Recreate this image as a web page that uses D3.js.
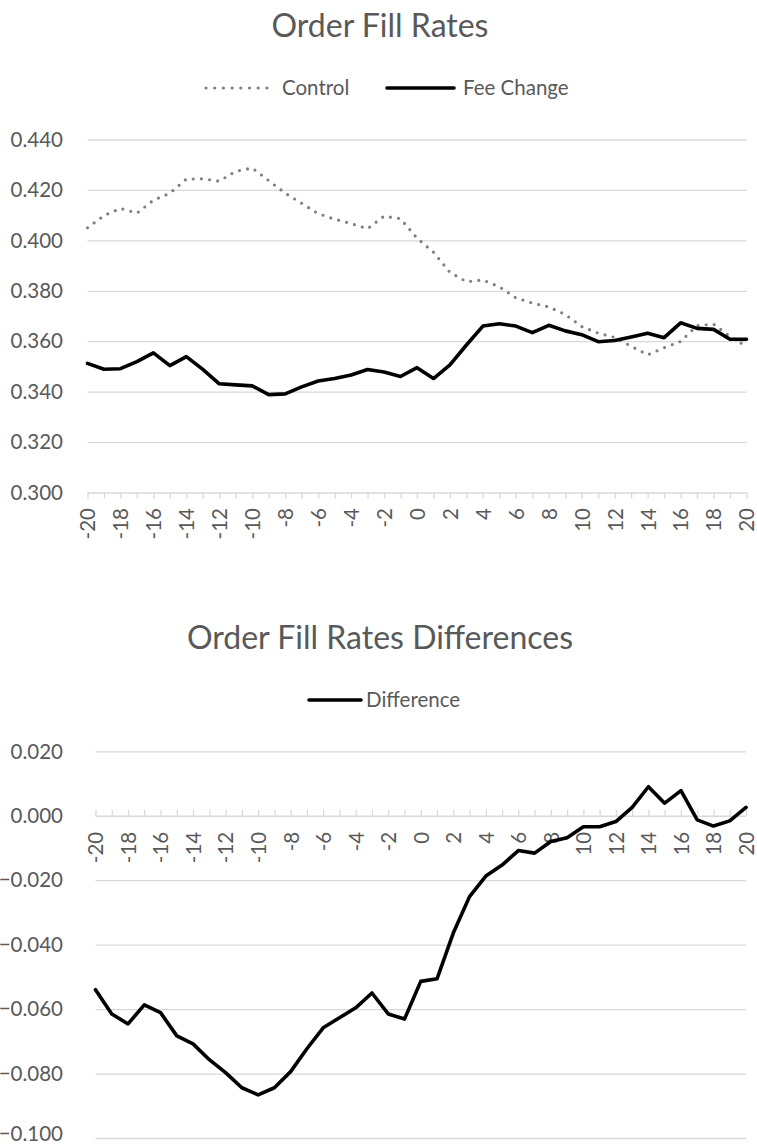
<!DOCTYPE html>
<html>
<head>
<meta charset="utf-8">
<script src="https://cdn.jsdelivr.net/npm/d3@7"></script>
<style>
  html, body { margin: 0; padding: 0; background: #ffffff; }
  svg { display: block; }
</style>
</head>
<body>
<script>
// ---------- data ----------
const days = [-20,-19,-18,-17,-16,-15,-14,-13,-12,-11,-10,-9,-8,-7,-6,-5,-4,-3,-2,-1,0,
              1,2,3,4,5,6,7,8,9,10,11,12,13,14,15,16,17,18,19,20];
const dayLabels = ["-20","-18","-16","-14","-12","-10","-8","-6","-4","-2","0",
                   "2","4","6","8","10","12","14","16","18","20"];

const controlRates = [0.4050,0.4098,0.4127,0.4108,0.4159,0.4187,0.4243,0.4244,0.4235,0.4274,0.4287,
                      0.4237,0.4187,0.4147,0.4106,0.4084,0.4067,0.4046,0.4096,0.4086,0.4009,
                      0.3953,0.3873,0.3836,0.3843,0.3816,0.3772,0.3751,0.3736,0.3706,0.3658,
                      0.3632,0.3615,0.3580,0.3546,0.3574,0.3599,0.3662,0.3668,0.3619,0.3579];
const feeChangeRates = [0.3512,0.3489,0.3491,0.3519,0.3554,0.3503,0.3539,0.3488,0.3431,0.3427,0.3423,
                        0.3388,0.3391,0.3419,0.3442,0.3452,0.3466,0.3488,0.3478,0.3460,0.3495,
                        0.3452,0.3506,0.3585,0.3660,0.3669,0.3660,0.3634,0.3663,0.3641,0.3626,
                        0.3598,0.3603,0.3617,0.3632,0.3614,0.3673,0.3651,0.3647,0.3608,0.3608];
const differences = [-0.0540,-0.0615,-0.0646,-0.0587,-0.0611,-0.0683,-0.0708,-0.0757,-0.0797,-0.0844,-0.0866,
                     -0.0844,-0.0794,-0.0723,-0.0658,-0.0627,-0.0596,-0.0550,-0.0615,-0.0631,-0.0514,
                     -0.0506,-0.0364,-0.0251,-0.0187,-0.0153,-0.0108,-0.0116,-0.0080,-0.0068,-0.0034,
                     -0.0034,-0.0018,0.0026,0.0090,0.0039,0.0078,-0.0013,-0.0032,-0.0016,0.0026];

const topYTicks = [0.300,0.320,0.340,0.360,0.380,0.400,0.420,0.440];
const botYTicks = [-0.100,-0.080,-0.060,-0.040,-0.020,0.000,0.020];

// ---------- style ----------
const FONT = "Lato, 'Open Sans', sans-serif";
const TEXT = "#595959";
const GRID = "#d9d9d9";

const W = 757, H = 1147;
const svg = d3.select("body").append("svg").attr("width", W).attr("height", H);

function gridAndYAxis(g, y, ticks, x0, x1, labelX) {
  const ax = d3.axisLeft(y).tickValues(ticks).tickSize(-(x1 - x0)).tickFormat(d3.format(".3f"));
  const a = g.append("g").attr("transform", `translate(${x0},0)`).call(ax);
  a.select(".domain").remove();
  a.selectAll(".tick line").attr("stroke", GRID).attr("stroke-width", 1.3);
  a.selectAll(".tick text")
    .attr("x", labelX - x0)
    .attr("dy", d => (y(d) > H - 12 ? "0.14em" : "0.33em"))
    .attr("fill", TEXT).style("font-family", FONT).style("font-size", "20.5px")
    .attr("text-anchor", "end");
}

function xAxis(g, x, yPos, tickLen, labelOffset) {
  const ax = d3.axisBottom(x).tickValues(days).tickSize(tickLen)
    .tickFormat(d => dayLabels.includes(String(d)) ? String(d) : "");
  const a = g.append("g").attr("transform", `translate(0,${yPos})`).call(ax);
  a.select(".domain").remove();
  a.selectAll(".tick line").attr("stroke", GRID).attr("stroke-width", 1.3)
    .attr("y1", 0).attr("y2", tickLen);
  a.selectAll(".tick text")
    .attr("transform", "rotate(-90)")
    .attr("x", -labelOffset).attr("y", 0).attr("dy", "0.36em")
    .attr("text-anchor", "end")
    .attr("fill", TEXT).style("font-family", FONT).style("font-size", "20.5px");
}

function title(text, yBase) {
  svg.append("text").attr("x", 380).attr("y", yBase).attr("text-anchor", "middle")
    .attr("fill", TEXT).style("font-family", FONT).style("font-size", "32px").text(text);
}

// ================= TOP CHART =================
const topG = svg.append("g");
const xTop = d3.scaleLinear().domain([-20, 20]).range([87.5, 746.5]);
const yTop = d3.scaleLinear().domain([0.300, 0.440]).range([492.5, 139.5]);

title("Order Fill Rates", 37);

// legend
const legTop = svg.append("g");
legTop.append("line").attr("x1", 206).attr("x2", 267).attr("y1", 88).attr("y2", 88)
  .attr("stroke", "#7f7f7f").attr("stroke-width", 3.2).attr("stroke-linecap", "round")
  .attr("stroke-dasharray", "0 8.7");
legTop.append("text").attr("x", 282).attr("y", 88).attr("dy", "0.35em")
  .attr("fill", TEXT).style("font-family", FONT).style("font-size", "20.5px").text("Control");
legTop.append("line").attr("x1", 387).attr("x2", 454).attr("y1", 88).attr("y2", 88)
  .attr("stroke", "#000").attr("stroke-width", 3.6).attr("stroke-linecap", "round");
legTop.append("text").attr("x", 463).attr("y", 88).attr("dy", "0.35em")
  .attr("fill", TEXT).style("font-family", FONT).style("font-size", "20.5px").text("Fee Change");

gridAndYAxis(topG, yTop, topYTicks, 87.5, 746.5, 63);
xAxis(topG, xTop, yTop(0.300), 6, 15.5);

const lineTop = (vals) => d3.line().x((d, i) => xTop(days[i])).y(d => yTop(d))(vals);

topG.append("path").attr("d", lineTop(controlRates))
  .attr("fill", "none").attr("stroke", "#7f7f7f").attr("stroke-width", 3.2)
  .attr("stroke-linecap", "round").attr("stroke-linejoin", "round")
  .attr("stroke-dasharray", "0 8.2");
topG.append("path").attr("d", lineTop(feeChangeRates))
  .attr("fill", "none").attr("stroke", "#000").attr("stroke-width", 3.6)
  .attr("stroke-linecap", "round").attr("stroke-linejoin", "round");

// ================= BOTTOM CHART =================
const botG = svg.append("g");
const xBot = d3.scaleLinear().domain([-20, 20]).range([95.5, 746]);
const yBot = d3.scaleLinear().domain([-0.100, 0.020]).range([1138, 751.3]);

title("Order Fill Rates Differences", 649);

const legBot = svg.append("g");
legBot.append("line").attr("x1", 309).attr("x2", 361).attr("y1", 700).attr("y2", 700)
  .attr("stroke", "#000").attr("stroke-width", 3.6).attr("stroke-linecap", "round");
legBot.append("text").attr("x", 366).attr("y", 700).attr("dy", "0.35em")
  .attr("fill", TEXT).style("font-family", FONT).style("font-size", "20.5px").text("Difference");

gridAndYAxis(botG, yBot, botYTicks, 95.5, 746, 63);
xAxis(botG, xBot, yBot(0), -6, 16);

botG.append("path")
  .attr("d", d3.line().x((d, i) => xBot(days[i])).y(d => yBot(d))(differences))
  .attr("fill", "none").attr("stroke", "#000").attr("stroke-width", 3.6)
  .attr("stroke-linecap", "round").attr("stroke-linejoin", "round");
</script>
</body>
</html>
